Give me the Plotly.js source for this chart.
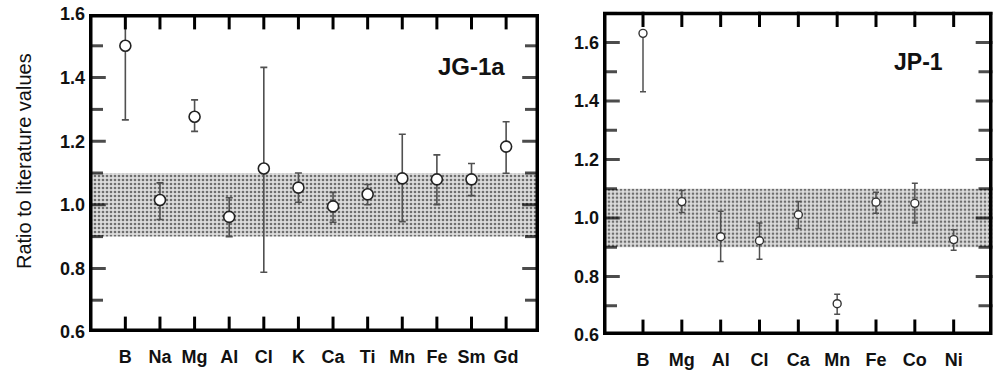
<!DOCTYPE html>
<html>
<head>
<meta charset="utf-8">
<script src="https://cdn.plot.ly/plotly-3.0.1.min.js"></script>
<style>html,body{margin:0;padding:0;background:#fff;}#chart{width:995px;height:373px;}</style>
</head>
<body>
<div id="chart"></div>
<script>
// ---- Data: JG-1a (left panel) ----
const elemsL = ['B','Na','Mg','Al','Cl','K','Ca','Ti','Mn','Fe','Sm','Gd'];
const ratioL = [1.500,1.015,1.277,0.962,1.114,1.054,0.995,1.033,1.083,1.080,1.080,1.183];
const errHiL = [0.233,0.054,0.053,0.060,0.318,0.046,0.044,0.031,0.139,0.077,0.050,0.078];
const errLoL = [0.233,0.061,0.046,0.062,0.326,0.046,0.050,0.033,0.136,0.080,0.051,0.084];

// ---- Data: JP-1 (right panel) ----
const elemsR = ['B','Mg','Al','Cl','Ca','Mn','Fe','Co','Ni'];
const ratioR = [1.631,1.056,0.936,0.922,1.011,0.707,1.054,1.050,0.926];
const errHiR = [0.000,0.038,0.087,0.061,0.045,0.032,0.034,0.069,0.034];
const errLoR = [0.200,0.037,0.085,0.063,0.047,0.036,0.038,0.067,0.036];

// ---- Reference band (±10 %) ----
const bandLow = 0.9;
const bandHigh = 1.1;

// axis ranges
const xRangeL = [-1.05, 11.95];
const yRangeL = [0.6, 1.6];
const xRangeR = [-1.03, 9.0];
const yRangeR = [0.6, 1.705];

const idxL = elemsL.map((_, i) => i);
const idxR = elemsR.map((_, i) => i);

// ---- page geometry ----
const W = 995, H = 373;
const M = {l: 60, r: 2, t: 8, b: 30};
const pw = W - M.l - M.r, ph = H - M.t - M.b;
const px = p => (p - M.l) / pw;          // pixel x -> paper fraction
const py = q => (H - M.b - q) / ph;      // pixel y -> paper fraction

const boxL = {x0: 89, x1: 539, y0: 332, y1: 14};
const boxR = {x0: 603, x1: 992.5, y0: 335, y1: 11.7};
const domLx = [px(boxL.x0), px(boxL.x1)], domLy = [py(boxL.y0), py(boxL.y1)];
const domRx = [px(boxR.x0), px(boxR.x1)], domRy = [py(boxR.y0), py(boxR.y1)];

const bandPattern = {shape: '.', bgcolor: '#dcdcdc', fgcolor: '#6e6e6e', size: 4, solidity: 0.35};

function bandTrace(xr, xa, ya) {
  return {
    x: [xr[0], xr[1], xr[1], xr[0], xr[0]],
    y: [bandLow, bandLow, bandHigh, bandHigh, bandLow],
    xaxis: xa, yaxis: ya,
    type: 'scatter', mode: 'none', fill: 'toself',
    fillcolor: '#c8c8c8',
    fillpattern: bandPattern,
    hoverinfo: 'skip', showlegend: false
  };
}

// frame and inward tick marks derived from the axis ranges (axis decoration).
// Tick marks are line-markers centred on the frame edge; the plot clip keeps the inner half.
function frameTraces(xa, ya, xr, yr, catIdx) {
  const xtX = [], xtY = [];
  catIdx.forEach(i => { xtX.push(i, i); xtY.push(yr[0], yr[1]); });
  const ytX = [], ytY = [], ytS = [];
  for (let k = 1; yr[0] + k * 0.1 <= yr[1] + 1e-9; k++) {
    const v = +(yr[0] + k * 0.1).toFixed(2);
    const s = (k % 2 === 0) ? 24 : 20;
    ytX.push(xr[0], xr[1]); ytY.push(v, v); ytS.push(s, s);
  }
  return [
    {x: xtX, y: xtY, xaxis: xa, yaxis: ya, type: 'scatter', mode: 'markers', cliponaxis: true,
     marker: {symbol: 'line-ns-open', size: 22, color: '#000', line: {color: '#000', width: 3}},
     hoverinfo: 'skip', showlegend: false},
    {x: ytX, y: ytY, xaxis: xa, yaxis: ya, type: 'scatter', mode: 'markers', cliponaxis: true,
     marker: {symbol: 'line-ew-open', size: ytS, color: '#000', line: {color: '#000', width: 3}},
     hoverinfo: 'skip', showlegend: false},
    {x: [xr[0], xr[1], xr[1], xr[0], xr[0]], y: [yr[0], yr[0], yr[1], yr[1], yr[0]],
     xaxis: xa, yaxis: ya, type: 'scatter', mode: 'lines',
     line: {color: '#000', width: 7}, hoverinfo: 'skip', showlegend: false}
  ];
}

const traces = [
  bandTrace(xRangeL, 'x', 'y'),
  {
    x: idxL, y: ratioL, xaxis: 'x', yaxis: 'y',
    type: 'scatter', mode: 'markers', showlegend: false,
    marker: {symbol: 'circle', size: 11, color: '#ffffff', line: {color: '#222', width: 1.6}},
    error_y: {type: 'data', symmetric: false, array: errHiL, arrayminus: errLoL,
              color: '#505050', thickness: 1.6, width: 3.5}
  },
  ...frameTraces('x', 'y', xRangeL, yRangeL, idxL),
  bandTrace(xRangeR, 'x2', 'y2'),
  {
    x: idxR, y: ratioR, xaxis: 'x2', yaxis: 'y2',
    type: 'scatter', mode: 'markers', showlegend: false,
    marker: {symbol: 'circle', size: 8, color: '#ffffff', line: {color: '#333', width: 1.4}},
    error_y: {type: 'data', symmetric: false, array: errHiR, arrayminus: errLoR,
              color: '#505050', thickness: 1.5, width: 3}
  },
  ...frameTraces('x2', 'y2', xRangeR, yRangeR, idxR)
];

const tickFont = {family: 'Liberation Sans, Arial, sans-serif', size: 18, color: '#111', weight: 700};
const axBase = {showline: false, ticks: '', showgrid: false, zeroline: false};

const layout = {
  width: W, height: H,
  margin: M,
  paper_bgcolor: '#fff', plot_bgcolor: '#fff',
  showlegend: false,
  xaxis: Object.assign({}, axBase, {
    domain: domLx, anchor: 'y', range: xRangeL,
    tickmode: 'array', tickvals: idxL, ticktext: elemsL,
    tickfont: tickFont, ticklabelstandoff: 12
  }),
  yaxis: Object.assign({}, axBase, {
    domain: domLy, anchor: 'x', range: yRangeL, dtick: 0.2, tick0: 0.6, tickformat: '.1f',
    tickfont: tickFont, ticklabelstandoff: 3
  }),
  xaxis2: Object.assign({}, axBase, {
    domain: domRx, anchor: 'y2', range: xRangeR,
    tickmode: 'array', tickvals: idxR, ticktext: elemsR,
    tickfont: tickFont, ticklabelstandoff: 12
  }),
  yaxis2: Object.assign({}, axBase, {
    domain: domRy, anchor: 'x2', range: yRangeR, dtick: 0.2, tick0: 0.6, tickformat: '.1f',
    tickfont: tickFont, ticklabelstandoff: 3
  }),
  annotations: [
    {text: 'Ratio to literature values', xref: 'paper', yref: 'paper', x: px(24), y: py(161),
     showarrow: false, textangle: -90, xanchor: 'center', yanchor: 'middle',
     font: {family: 'Liberation Sans, Arial, sans-serif', size: 20, color: '#111'}},
    {text: '<b>JG-1a</b>', xref: 'paper', yref: 'paper', x: px(471), y: py(66),
     showarrow: false, xanchor: 'center', yanchor: 'middle',
     font: {family: 'Liberation Sans, Arial, sans-serif', size: 24, color: '#111'}},
    {text: '<b>JP-1</b>', xref: 'paper', yref: 'paper', x: px(918), y: py(62),
     showarrow: false, xanchor: 'center', yanchor: 'middle',
     font: {family: 'Liberation Sans, Arial, sans-serif', size: 23, color: '#111'}}
  ]
};

Plotly.newPlot('chart', traces, layout, {displayModeBar: false});
</script>
</body>
</html>
